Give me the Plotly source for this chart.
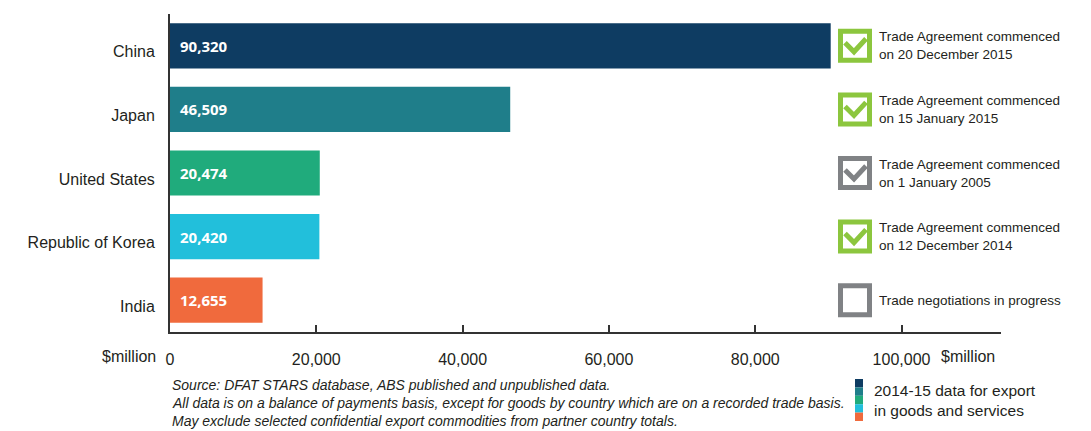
import plotly.graph_objects as go

# --- DATA ---
countries = ["China", "Japan", "United States", "Republic of Korea", "India"]
exports = [90320, 46509, 20474, 20420, 12655]
agreement_text = [
    "Trade Agreement commenced<br>on 20 December 2015",
    "Trade Agreement commenced<br>on 15 January 2015",
    "Trade Agreement commenced<br>on 1 January 2005",
    "Trade Agreement commenced<br>on 12 December 2014",
    "Trade negotiations in progress",
]
agreement_kind = ["new", "new", "old", "new", "negotiating"]
x_ticks = [0, 20000, 40000, 60000, 80000, 100000]
x_unit = "$million"
source_lines = [
    "Source: DFAT STARS database, ABS published and unpublished data.",
    "All data is on a balance of payments basis, except for goods by country which are on a recorded trade basis.",
    "May exclude selected confidential export commodities from partner country totals.",
]
legend_note = "2014-15 data for export<br>in goods and services"

# --- STYLE ---
bar_colors = ["#0e3c62", "#1f7e8a", "#20ab7c", "#22bfdb", "#f06a3d"]
box_colors = {"new": "#8cc63e", "old": "#808285", "negotiating": "#808285"}
TEXT = "#231f20"
AXIS = "#333333"

W, H = 1091, 431
L, R, T, B = 170, 90, 14, 99
PW, PH = W - L - R, H - T - B


def px_x(px):
    return (px - L) / PW


def px_y(py):
    return (H - B - py) / PH


fig = go.Figure()
fig.add_trace(go.Bar(
    x=exports, y=countries, orientation="h",
    marker=dict(color=bar_colors, line=dict(width=0)),
    hoverinfo="skip",
))

annotations = []
shapes = []

# value labels inside the bars
for c, v in zip(countries, exports):
    annotations.append(dict(
        x=0, y=c, xref="x", yref="y", xanchor="left", yanchor="middle",
        xshift=8, text=f"{v:,}", showarrow=False,
        font=dict(family="Open Sans", size=15, color="white", weight="bold"),
    ))

# check boxes and agreement notes
for i, (c, txt, kind) in enumerate(zip(countries, agreement_text, agreement_kind)):
    col = box_colors[kind]
    shapes.append(dict(
        type="rect", xref="paper", yref="y", xsizemode="pixel", ysizemode="pixel",
        xanchor=px_x(855), yanchor=i, x0=-14.5, x1=14.5, y0=-14.5, y1=14.5,
        line=dict(color=col, width=5), fillcolor="white",
    ))
    if kind != "negotiating":
        shapes.append(dict(
            type="path", xref="paper", yref="y", xsizemode="pixel", ysizemode="pixel",
            xanchor=px_x(855), yanchor=i,
            path="M -10 3 L -1 -6 L 11 7",
            line=dict(color=col, width=5),
        ))
    annotations.append(dict(
        x=px_x(877), y=i, xref="paper", yref="y", xanchor="left", yanchor="middle",
        text=txt, showarrow=False, align="left",
        font=dict(family="Liberation Sans", size=13.5, color=TEXT),
    ))

# unit labels either side of the x tick labels
annotations.append(dict(
    x=px_x(158), y=px_y(356), xref="paper", yref="paper", xanchor="right", yanchor="middle",
    text=x_unit, showarrow=False, font=dict(family="Liberation Sans", size=16, color=TEXT),
))
annotations.append(dict(
    x=px_x(939), y=px_y(356), xref="paper", yref="paper", xanchor="left", yanchor="middle",
    text=x_unit, showarrow=False, font=dict(family="Liberation Sans", size=16, color=TEXT),
))

# source notes
for k, line in enumerate(source_lines):
    annotations.append(dict(
        x=0, y=px_y(385 + 18 * k), xref="paper", yref="paper", xanchor="left", yanchor="middle",
        text=f"<i>{line}</i>", showarrow=False,
        font=dict(family="Liberation Sans", size=14, color=TEXT),
    ))

# colour strip legend
strip_top, strip_h = 379, 8.4
for k, col in enumerate(bar_colors):
    shapes.append(dict(
        type="rect", xref="paper", yref="paper",
        x0=px_x(855), x1=px_x(863),
        y0=px_y(strip_top + strip_h * (k + 1)), y1=px_y(strip_top + strip_h * k),
        fillcolor=col, line=dict(width=0),
    ))
annotations.append(dict(
    x=px_x(872), y=px_y(400), xref="paper", yref="paper", xanchor="left", yanchor="middle",
    text=legend_note, showarrow=False, align="left",
    font=dict(family="Liberation Sans", size=15.5, color=TEXT),
))

fig.update_layout(
    width=W, height=H,
    margin=dict(l=L, r=R, t=T, b=B),
    paper_bgcolor="white", plot_bgcolor="white",
    showlegend=False,
    bargap=0.29,
    font=dict(family="Liberation Sans", color=TEXT),
    xaxis=dict(
        range=[0, 113600], tickvals=x_ticks, tickformat=",",
        showgrid=False, zeroline=False,
        showline=True, linecolor=AXIS, linewidth=2,
        ticks="inside", ticklen=7, tickwidth=1.5, tickcolor=AXIS,
        ticklabelstandoff=12,
        tickfont=dict(family="Liberation Sans", size=16, color=TEXT),
    ),
    yaxis=dict(
        categoryorder="array", categoryarray=countries,
        range=[4.5, -0.5],
        showgrid=False, zeroline=False,
        showline=True, linecolor=AXIS, linewidth=2,
        ticks="", ticklabelstandoff=10, ticklabelshift=-6,
        tickfont=dict(family="Liberation Sans", size=16, color=TEXT),
    ),
    shapes=shapes,
    annotations=annotations,
)

# drop the page's default body margin so the figure sits at the window's corner
fig.write_html("out.html", config={"displayModeBar": False},
               post_script="document.body.style.margin='0px';")
